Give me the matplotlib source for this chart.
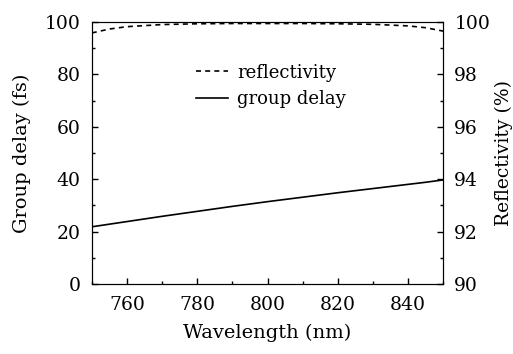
import numpy as np
from matplotlib import pyplot as plt
from matplotlib.ticker import MultipleLocator

plt.rcParams['font.family'] = 'DejaVu Serif'
plt.rcParams['font.size'] = 13

wl = [750, 755, 760, 770, 780, 790, 800, 810, 820, 830, 840, 845, 850]
delay = [21.8, 22.8, 23.8, 25.8, 27.7, 29.6, 31.4, 33.1, 34.8, 36.4, 38.0, 38.8, 39.7]
refl = [99.58, 99.73, 99.82, 99.9, 99.93, 99.94, 99.94, 99.94, 99.93, 99.91, 99.85, 99.78, 99.65]

fig = plt.figure(figsize=(5.13, 3.54), dpi=100)
ax = fig.add_axes([0.179, 0.198, 0.685, 0.74])
ax2 = ax.twinx()

ax2.plot(wl, refl, color='black', linestyle=(0, (3, 2.5)), lw=1.2)
ax.plot(wl, delay, color='black', lw=1.2)

ax.set_xlim(750, 850)
ax.set_ylim(0, 100)
ax2.set_ylim(90, 100)
ax.set_xticks([760, 780, 800, 820, 840])
ax.xaxis.set_minor_locator(MultipleLocator(10))
ax.yaxis.set_major_locator(MultipleLocator(20))
ax.yaxis.set_minor_locator(MultipleLocator(10))
ax2.yaxis.set_major_locator(MultipleLocator(2))
ax2.yaxis.set_minor_locator(MultipleLocator(1))
for a in (ax, ax2):
    a.tick_params(direction='in', length=4, width=1)
    a.tick_params(which='minor', direction='in', length=2, width=1)
ax.tick_params(axis='x', labelsize=13.5, pad=9)
ax.tick_params(axis='y', labelsize=13.5, pad=8)
ax2.tick_params(axis='y', labelsize=13.5, pad=8)

ax.set_xlabel('Wavelength (nm)', fontsize=14, labelpad=7)
ax.set_ylabel('Group delay (fs)', fontsize=14, labelpad=10)
ax2.set_ylabel('Reflectivity (%)', fontsize=13.5, labelpad=3)

ax.plot([], [], color='black', linestyle=(0, (3, 2.5)), lw=1.2, label='reflectivity')
ax.plot([], [], color='black', lw=1.2, label='group delay')
lines = ax.get_lines()
ax.legend(handles=lines[1:], loc='upper left', bbox_to_anchor=(0.27, 0.875),
          frameon=False, fontsize=13, handlelength=1.8, handletextpad=0.5,
          labelspacing=0.45, borderpad=0)

fig.savefig('out.png', dpi=100)
